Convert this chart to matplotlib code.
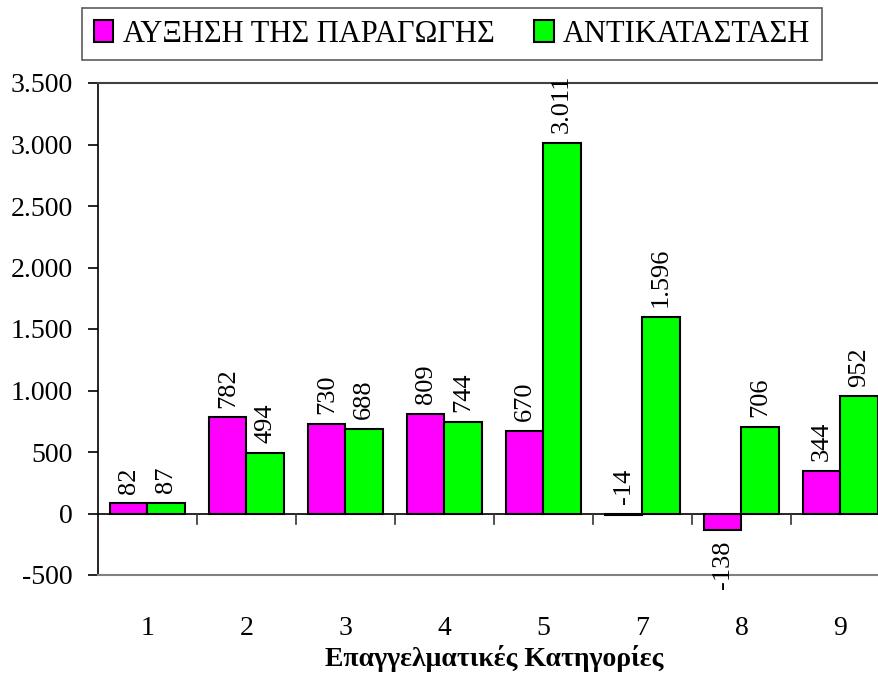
import numpy as np
import matplotlib
matplotlib.use("Agg")
import matplotlib.pyplot as plt
from matplotlib.transforms import blended_transform_factory

plt.rcParams["font.family"] = ["Liberation Serif", "DejaVu Serif"]

categories = ["1", "2", "3", "4", "5", "7", "8", "9"]
auxisi = [82, 782, 730, 809, 670, -14, -138, 344]
antikatastasi = [87, 494, 688, 744, 3011, 1596, 706, 952]
yticks = [-500, 0, 500, 1000, 1500, 2000, 2500, 3000, 3500]


def fmt(v):
    # ελληνικό διαχωριστικό χιλιάδων
    return f"{v:,}".replace(",", ".")


W, H = 879, 673
fig = plt.figure(figsize=(W / 100, H / 100), dpi=100)
# άξονας: αριστερά στο x=98, 99 px ανά ομάδα, από 3.500 (y=83) ως -500 (y=575)
ax = fig.add_axes([98 / W, 1 - 575 / H, 8 * 99 / W, (575 - 83) / H])

x = np.arange(len(categories))
w = 0.375
b1 = ax.bar(x - w / 2, auxisi, w, color="#ff00ff", edgecolor="black", linewidth=1.5,
            label="ΑΥΞΗΣΗ ΤΗΣ ΠΑΡΑΓΩΓΗΣ", zorder=3)
b2 = ax.bar(x + w / 2, antikatastasi, w, color="#00ff00", edgecolor="black", linewidth=1.5,
            label="ΑΝΤΙΚΑΤΑΣΤΑΣΗ", zorder=3)

for bars, vals in ((b1, auxisi), (b2, antikatastasi)):
    for r, v in zip(bars, vals):
        cx = r.get_x() + r.get_width() / 2
        if v > -100:
            ax.annotate(fmt(v), (cx, max(v, 0)), xytext=(0, 7), textcoords="offset points",
                        rotation=90, ha="center", va="bottom", fontsize=19)
        else:
            ax.annotate(fmt(v), (cx, v), xytext=(0, -7), textcoords="offset points",
                        rotation=90, ha="center", va="top", fontsize=19)

ax.set_xlim(-0.5, len(categories) - 0.5)
ax.set_ylim(-500, 3500)
ax.set_yticks(yticks)
ax.set_yticklabels([fmt(v) for v in yticks], fontsize=20)
ax.tick_params(axis="y", length=7.2, width=1.2, pad=11)

# άξονας x πάνω στο μηδέν, με γραμμές ανάμεσα στις ομάδες
ax.set_xticks([])
ax.axhline(0, color="black", linewidth=1.2, zorder=2)
px = 500 / 492  # μονάδες δεδομένων ανά pixel (περίπου)
for xb in np.arange(0.5, len(categories) - 0.5):
    ax.plot([xb, xb], [0, -10 * px * 8], color="#333333", linewidth=1.2, zorder=2)

trans = blended_transform_factory(ax.transData, fig.transFigure)
for xi, c in zip(x, categories):
    fig.text(xi, 1 - 635 / H, c, transform=trans, ha="center", va="baseline", fontsize=20)
fig.text(np.mean(x), 1 - 666 / H, "Επαγγελματικές Κατηγορίες", transform=trans,
         ha="center", va="baseline", fontsize=20, fontweight="bold")

ax.spines["right"].set_visible(False)
ax.spines["left"].set_linewidth(1.2)
ax.spines["top"].set_color("#404040")
ax.spines["bottom"].set_color("#808080")
ax.spines["top"].set_linewidth(1.5)
ax.spines["bottom"].set_linewidth(1.5)

leg = fig.legend(loc="upper left", bbox_to_anchor=(82 / W, 1 - 8 / H), ncol=2,
                 fontsize=22, frameon=True, fancybox=False, edgecolor="#333333",
                 handlelength=0.65, handleheight=0.75, handletextpad=0.3,
                 columnspacing=1.3, borderpad=0.38, borderaxespad=0)
leg.get_frame().set_linewidth(1.2)

fig.savefig("out.png", dpi=100)
